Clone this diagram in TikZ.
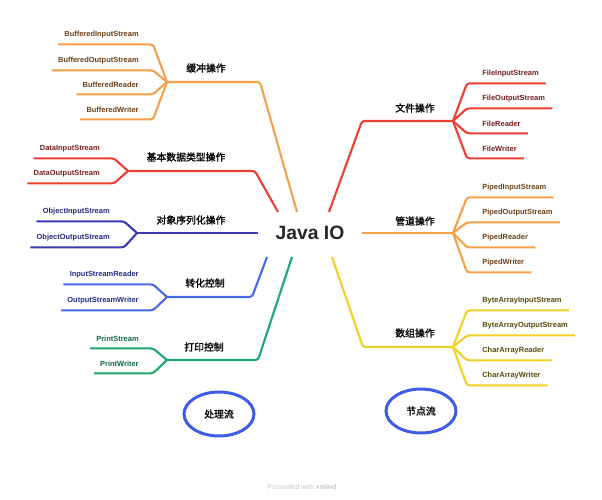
\documentclass[tikz,border=0pt]{standalone}
\usepackage{fontspec}
\setmainfont{Liberation Sans}
\newfontfamily\cjk[FakeBold=1.5]{Noto Sans CJK SC}
\usetikzlibrary{positioning,calc,shapes.geometric}
\definecolor{cOrange}{RGB}{245,160,72}
\definecolor{cRed}{RGB}{236,62,50}
\definecolor{cNavy}{RGB}{58,58,178}
\definecolor{cBlue}{RGB}{72,104,232}
\definecolor{cGreen}{RGB}{28,168,110}
\definecolor{cYellow}{RGB}{240,208,36}
\definecolor{cEll}{RGB}{62,92,232}
\definecolor{tOrange}{RGB}{108,64,22}
\definecolor{tRed}{RGB}{118,30,30}
\definecolor{tNavy}{RGB}{40,40,120}
\definecolor{tBlue}{RGB}{32,46,128}
\definecolor{tGreen}{RGB}{14,104,68}
\definecolor{tYellow}{RGB}{90,74,12}
\begin{document}
\begin{tikzpicture}[x=0.02cm, y=-0.02cm,
    leaf/.style={inner sep=0pt, minimum height=0.36cm, font=\fontsize{4.25}{5}\selectfont\bfseries},
    cat/.style={inner sep=1pt, font=\cjk\fontsize{5.6}{6}\selectfont},
    branch/.style={line width=1.2pt, rounded corners=1.5pt},
    oval/.style={ellipse, draw=cEll, line width=1.7pt, minimum width=1.4cm, minimum height=0.88cm, inner sep=0pt, font=\cjk\fontsize{5.6}{6}\selectfont}]
    \useasboundingbox (0,0) rectangle (602,500);
    \node[font=\fontsize{11}{12}\selectfont\bfseries, text=black!85] (java) at (310,233) {Java IO};
    % left side
    \coordinate (bufA) at (297,212); \coordinate (bufB) at (260,82); \coordinate (bufJ) at (167,82);
    \coordinate (datA) at (278,212); \coordinate (datB) at (255,171); \coordinate (datJ) at (128,171);
    \coordinate (objA) at (258,233); \coordinate (objJ) at (137,233);
    \coordinate (cnvA) at (267,257); \coordinate (cnvB) at (252,297); \coordinate (cnvJ) at (167,297);
    \coordinate (prtA) at (292,257); \coordinate (prtB) at (258,360); \coordinate (prtJ) at (167,360);
    \draw[branch, cOrange] (bufA) -- (bufB) -- (bufJ);
    \draw[branch, cRed] (datA) -- (datB) -- (datJ);
    \draw[branch, cNavy] (objA) -- (objJ);
    \draw[branch, cBlue] (cnvA) -- (cnvB) -- (cnvJ);
    \draw[branch, cGreen] (prtA) -- (prtB) -- (prtJ);
    \node[cat] (buf) at (206,68) {缓冲操作};
    \node[cat] (dat) at (186,157) {基本数据类型操作};
    \node[cat] (obj) at (191,220) {对象序列化操作};
    \node[cat] (cnv) at (205,283) {转化控制};
    \node[cat] (prt) at (204,347) {打印控制};
    \foreach \t/\y [count=\i] in {BufferedInputStream/35,BufferedOutputStream/61,BufferedReader/85,BufferedWriter/110}
    {
        \node[leaf, text=tOrange, anchor=east] (buf\i) at (139,\y) {\t};
        \draw[branch, cOrange] ($(buf\i.south west)+(-6,0)$) -- ($(buf\i.south east)+(14,0)$) -- (bufJ);
    }
    \foreach \t/\y [count=\i] in {DataInputStream/149,DataOutputStream/174}
    {
        \node[leaf, text=tRed, anchor=east] (dat\i) at (100,\y) {\t};
        \draw[branch, cRed] ($(dat\i.south west)+(-6,0)$) -- ($(dat\i.south east)+(14,0)$) -- (datJ);
    }
    \foreach \t/\y [count=\i] in {ObjectInputStream/212,ObjectOutputStream/238}
    {
        \node[leaf, text=tNavy, anchor=east] (obj\i) at (110,\y) {\t};
        \draw[branch, cNavy] ($(obj\i.south west)+(-6,0)$) -- ($(obj\i.south east)+(14,0)$) -- (objJ);
    }
    \foreach \t/\y [count=\i] in {InputStreamReader/275,OutputStreamWriter/301}
    {
        \node[leaf, text=tBlue, anchor=east] (cnv\i) at (139,\y) {\t};
        \draw[branch, cBlue] ($(cnv\i.south west)+(-6,0)$) -- ($(cnv\i.south east)+(14,0)$) -- (cnvJ);
    }
    \foreach \t/\y [count=\i] in {PrintStream/339,PrintWriter/364}
    {
        \node[leaf, text=tGreen, anchor=east] (prt\i) at (139,\y) {\t};
        \draw[branch, cGreen] ($(prt\i.south west)+(-6,0)$) -- ($(prt\i.south east)+(14,0)$) -- (prtJ);
    }
    % right side
    \coordinate (filA) at (329,212); \coordinate (filB) at (362,121); \coordinate (filJ) at (453,121);
    \coordinate (pipA) at (362,233); \coordinate (pipJ) at (453,233);
    \coordinate (bytA) at (332,257); \coordinate (bytB) at (363,347); \coordinate (bytJ) at (453,347);
    \draw[branch, cRed] (filA) -- (filB) -- (filJ);
    \draw[branch, cOrange] (pipA) -- (pipJ);
    \draw[branch, cYellow] (bytA) -- (bytB) -- (bytJ);
    \node[cat] (fil) at (415,108) {文件操作};
    \node[cat] (pip) at (415,221) {管道操作};
    \node[cat] (byt) at (415,333) {数组操作};
    \foreach \t/\y [count=\i] in {FileInputStream/74,FileOutputStream/99,FileReader/124,FileWriter/149}
    {
        \node[leaf, text=tRed, anchor=west] (fil\i) at (482,\y) {\t};
        \draw[branch, cRed] (filJ) -- ($(fil\i.south west)+(-15,0)$) -- ($(fil\i.south east)+(7,0)$);
    }
    \foreach \t/\y [count=\i] in {PipedInputStream/188,PipedOutputStream/213,PipedReader/238,PipedWriter/263}
    {
        \node[leaf, text=tOrange, anchor=west] (pip\i) at (482,\y) {\t};
        \draw[branch, cOrange] (pipJ) -- ($(pip\i.south west)+(-15,0)$) -- ($(pip\i.south east)+(7,0)$);
    }
    \foreach \t/\y [count=\i] in {ByteArrayInputStream/301,ByteArrayOutputStream/326,CharArrayReader/351,CharArrayWriter/376}
    {
        \node[leaf, text=tYellow, anchor=west] (byt\i) at (482,\y) {\t};
        \draw[branch, cYellow] (bytJ) -- ($(byt\i.south west)+(-15,0)$) -- ($(byt\i.south east)+(7,0)$);
    }
    \node[oval] (proc) at (219,414) {处理流};
    \node[oval] (nodeflow) at (421,411) {节点流};
    \node[font=\fontsize{4}{5}\selectfont, text=black!22] (credit) at (302,487) {Presented with \textbf{xmind}};
\end{tikzpicture}
\end{document}
